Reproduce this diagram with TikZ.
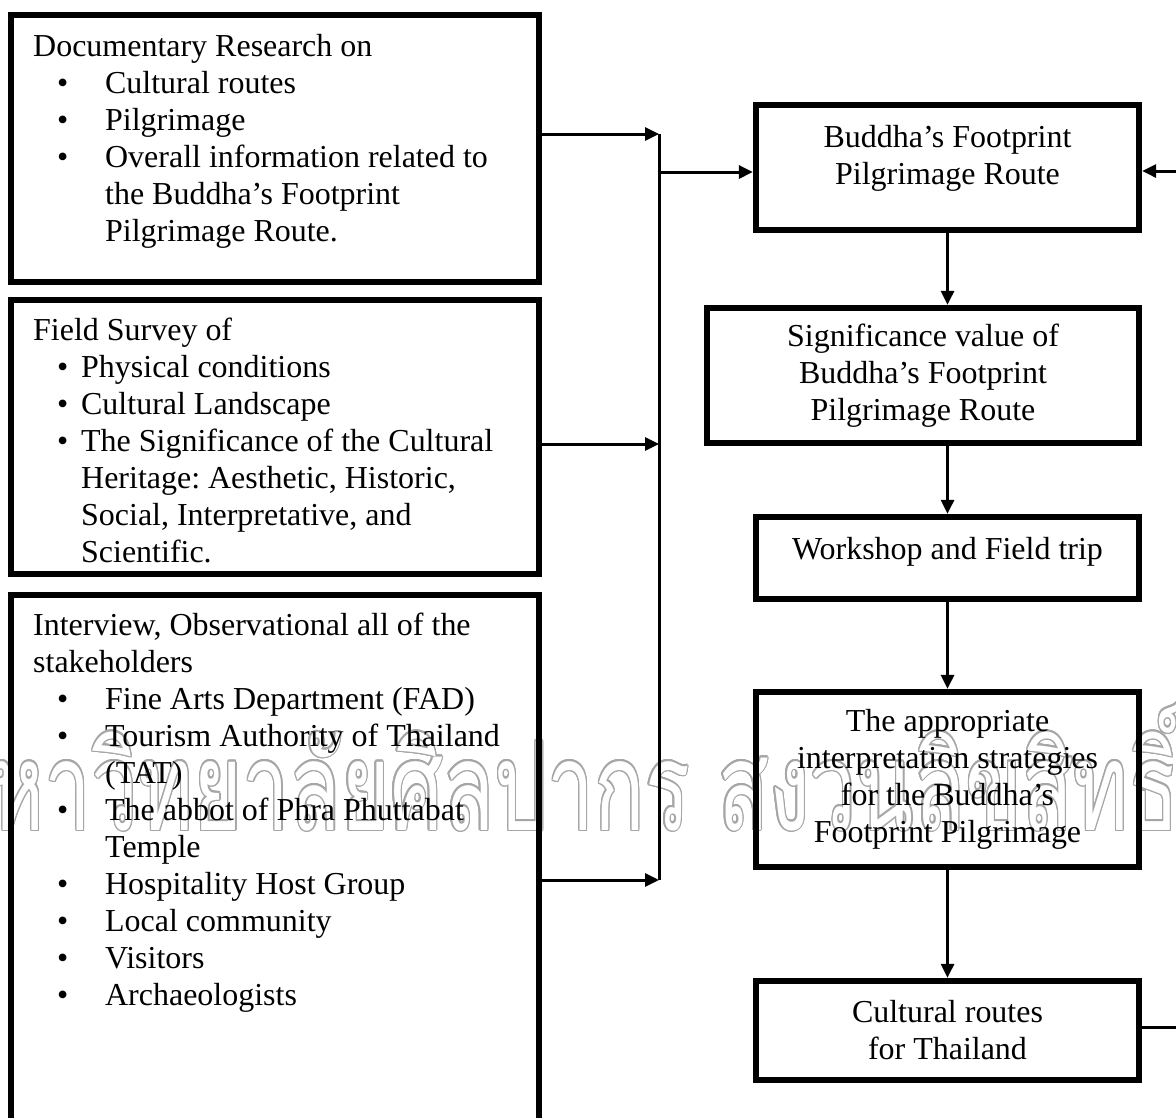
\documentclass[tikz,border=0pt]{standalone}
\usepackage{fontspec}
\setmainfont{Liberation Serif}
\newfontfamily\thaifont[Script=Thai]{Loma}
\usepackage{contour}
\usetikzlibrary{arrows.meta,calc,fit}

\contourlength{0.15pt}
\newcommand{\bul}[2]{\makebox[#1][l]{\hspace{0.48cm}\textbullet}#2}
\newcommand{\indline}[2]{\hspace*{#1}#2}

\begin{document}
\begin{tikzpicture}[x=0.02cm,y=-0.02cm,
    panel/.style={draw,line width=3.6pt,inner sep=0pt},
    txt/.style={inner sep=0pt,anchor=north west,align=left,font=\fontsize{18.2pt}{21.05pt}\selectfont\frenchspacing},
    stage/.style={panel,align=center,minimum width=7.66cm,font=\fontsize{18.2pt}{21.05pt}\selectfont},
    arr/.style={line width=1.7pt,-{Triangle[length=0.28cm,width=0.26cm]}}]
  \useasboundingbox (0,0) rectangle (1176,1117);

  % watermark
  \node[inner sep=0pt,anchor=base] (mark) at (557,830)
    {\resizebox{24.9cm}{2.6cm}{\color{white}\contour{black!35}{\thaifont มหาวิทยาลัยศิลปากร สงวนลิขสิทธิ์}}};

  % methods
  \node[panel,fit={(11,15) (539,282)}] (research) {};
  \node[txt] (researchtxt) at ($(research.north west)+(25,22)$) {Documentary Research on\\
    \bul{1.44cm}{Cultural routes}\\
    \bul{1.44cm}{Pilgrimage}\\
    \bul{1.44cm}{Overall information related to}\\
    \indline{1.44cm}{the Buddha’s Footprint}\\
    \indline{1.44cm}{Pilgrimage Route.}};

  \node[panel,fit={(11,300) (539,574)}] (survey) {};
  \node[txt] (surveytxt) at ($(survey.north west)+(25,21)$) {Field Survey of\\
    \bul{0.96cm}{Physical conditions}\\
    \bul{0.96cm}{Cultural Landscape}\\
    \bul{0.96cm}{The Significance of the Cultural}\\
    \indline{0.96cm}{Heritage: Aesthetic, Historic,}\\
    \indline{0.96cm}{Social, Interpretative, and}\\
    \indline{0.96cm}{Scientific.}};

  \node[panel,fit={(11,595) (539,1140)}] (interview) {};
  \node[txt] (interviewtxt) at ($(interview.north west)+(25,21)$) {Interview, Observational all of the\\
    stakeholders\\
    \bul{1.44cm}{Fine Arts Department (FAD)}\\
    \bul{1.44cm}{Tourism Authority of Thailand}\\
    \indline{1.44cm}{(TAT)}\\
    \bul{1.44cm}{The abbot of Phra Phuttabat}\\
    \indline{1.44cm}{Temple}\\
    \bul{1.44cm}{Hospitality Host Group}\\
    \bul{1.44cm}{Local community}\\
    \bul{1.44cm}{Visitors}\\
    \bul{1.44cm}{Archaeologists}};

  % stages
  \node[stage,minimum height=2.5cm,text depth=0.5cm] (route) at (947.5,167.5) {Buddha’s Footprint\\ Pilgrimage Route};
  \node[stage,minimum width=8.64cm,minimum height=2.7cm] (significance) at (923,375.5) {Significance value of\\ Buddha’s Footprint\\ Pilgrimage Route};
  \node[stage,minimum height=1.64cm,text depth=0.38cm] (workshop) at (947.5,558) {Workshop and Field trip};
  \node[stage,minimum height=3.5cm] (strategies) at (947.5,779.5) {The appropriate\\ interpretation strategies\\ for the Buddha’s\\ Footprint Pilgrimage};
  \node[stage,minimum height=1.98cm] (thailand) at (947.5,1030.5) {Cultural routes\\ for Thailand};

  \coordinate (ja) at (659,134);
  \coordinate (jb) at (659,444);
  \coordinate (jc) at (659,880);
  \coordinate (jm) at (659,172);
  \coordinate (rin) at (1180,171);
  \coordinate (rout) at (1180,1027);

  \foreach \n/\j in {research/ja,survey/jb,interview/jc}
    \draw[arr] (\n.east |- \j) -- (\j);
  \draw[line width=1.7pt] (ja) -- (jc);
  \draw[arr] (jm) -- (route.west |- jm);
  \draw[arr] (rin) -- (route.east |- rin);
  \draw[arr] (route.south) -- (route.south |- significance.north);
  \foreach \a/\b in {significance/workshop,workshop/strategies,strategies/thailand}
    \draw[arr] (\b.north |- \a.south) -- (\b.north);
  \draw[line width=1.7pt] (thailand.east |- rout) -- (rout);
\end{tikzpicture}
\end{document}
